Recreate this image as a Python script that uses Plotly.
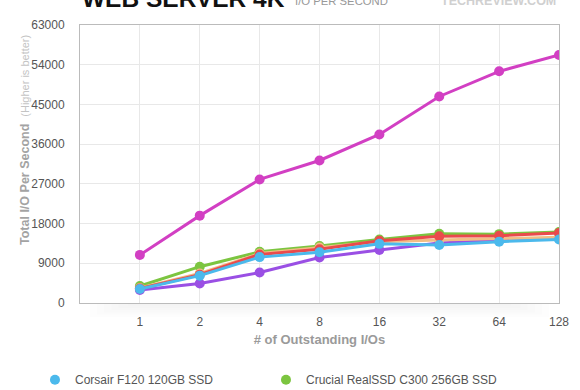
import plotly.graph_objects as go

categories = ["1", "2", "4", "8", "16", "32", "64", "128"]

series_names = [
    "Corsair F120 120GB SSD",
    "Crucial RealSSD C300 256GB SSD 3.0Gb/s",
    "Series 3",
    "Series 4",
    "Series 5",
    "Series 6",
]
legend_visible = [True, True, False, False, False, False]
series_colors = ["#4bb9ec", "#7cc540", "#d23fc3", "#ea4a4c", "#f2bd85", "#9a4fe4"]

corsair = [3170, 6200, 10400, 11500, 13400, 13150, 13900, 14400]
crucial = [3850, 8230, 11600, 12900, 14400, 15700, 15600, 16100]
series3 = [10900, 19800, 28000, 32300, 38200, 46800, 52500, 56200]
series4 = [3300, 6400, 11000, 12200, 14100, 15100, 15250, 15850]
series5 = [3400, 6700, 11200, 12550, 13900, 14300, 14650, 14900]
series6 = [2950, 4400, 6900, 10300, 12000, 13600, 14200, 14700]

series_values = [corsair, crucial, series3, series4, series5, series6]
draw_order = [5, 1, 4, 3, 0, 2]

y_ticks = [0, 9000, 18000, 27000, 36000, 45000, 54000, 63000]

fig = go.Figure()
for i in draw_order:
    fig.add_trace(go.Scatter(
        x=categories, y=series_values[i], mode="lines+markers",
        line=dict(color=series_colors[i], width=3),
        marker=dict(color=series_colors[i], size=10),
        showlegend=False, name=series_names[i], hoverinfo="skip"))
for i, nm in enumerate(series_names):
    if legend_visible[i]:
        fig.add_trace(go.Scatter(
            x=[None], y=[None], mode="markers", name=nm,
            marker=dict(color=series_colors[i], size=10),
            showlegend=True, legendrank=i + 1))

# soft shadow under the plot frame
for x0, x1, dy in [(0.02, 0.98, 0.05), (0.035, 0.965, 0.042), (0.05, 0.95, 0.034),
                   (0.065, 0.935, 0.026), (0.08, 0.92, 0.018), (0.1, 0.9, 0.01)]:
    fig.add_shape(type="rect", xref="paper", yref="paper", x0=x0, x1=x1, y0=-dy, y1=0,
                  line=dict(width=0), fillcolor="rgba(0,0,0,0.008)", layer="below")

fig.update_layout(
    width=580, height=390,
    margin=dict(l=80, r=21, t=25, b=87, autoexpand=False),
    paper_bgcolor="white", plot_bgcolor="white",
    font=dict(family="Liberation Sans, Arial, sans-serif", color="#555555", size=12),
    showlegend=True,
    legend=dict(orientation="h", x=-0.094, y=-0.224, xanchor="left", yanchor="top",
                entrywidth=186, entrywidthmode="pixels",
                font=dict(size=12, color="#555555"), traceorder="normal",
                bgcolor="rgba(0,0,0,0)"),
    xaxis=dict(type="category", range=[-1, 7], showgrid=True, gridcolor="#e8e8e8",
               showline=True, linecolor="#bbbbbb", linewidth=1, mirror=True,
               ticks="", ticklabelstandoff=8, zeroline=False,
               tickfont=dict(size=12, color="#555555"),
               title=dict(text="<b># of Outstanding I/Os</b>",
                          font=dict(size=13, color="#9a9a9a"), standoff=6)),
    yaxis=dict(range=[0, 63000], tickvals=y_ticks, ticktext=[str(v) for v in y_ticks],
               showgrid=True, gridcolor="#e8e8e8", zeroline=False,
               showline=True, linecolor="#bbbbbb", linewidth=1, mirror=True,
               ticks="", ticklabelstandoff=12,
               tickfont=dict(size=12, color="#555555")),
)

fig.add_annotation(
    xref="paper", yref="paper", x=-0.115, y=0.586, xanchor="center", yanchor="middle",
    textangle=-90, showarrow=False,
    text=("<b>Total I/O Per Second</b>  "
          "<span style='font-size:11px;color:#c4c4c4'>(Higher is better)</span>"),
    font=dict(size=12.5, color="#a3a3a3"))

fig.add_annotation(
    xref="paper", yref="paper", x=0.0, y=1.094, xanchor="left", yanchor="middle",
    showarrow=False, text="<b>WEB SERVER 4K</b>",
    font=dict(size=24.5, color="#111111"))
fig.add_annotation(
    xref="paper", yref="paper", x=0.444, y=1.085, xanchor="left", yanchor="middle",
    showarrow=False, text="I/O PER SECOND",
    font=dict(size=11.3, color="#999999"))
fig.add_annotation(
    xref="paper", yref="paper", x=0.998, y=1.085, xanchor="right", yanchor="middle",
    showarrow=False, text="<b>TECHREVIEW.COM</b>",
    font=dict(size=12.5, color="#d0d0d0"))

fig.write_html("out.html", config={"displayModeBar": False},
               post_script="document.body.style.margin='0';")
